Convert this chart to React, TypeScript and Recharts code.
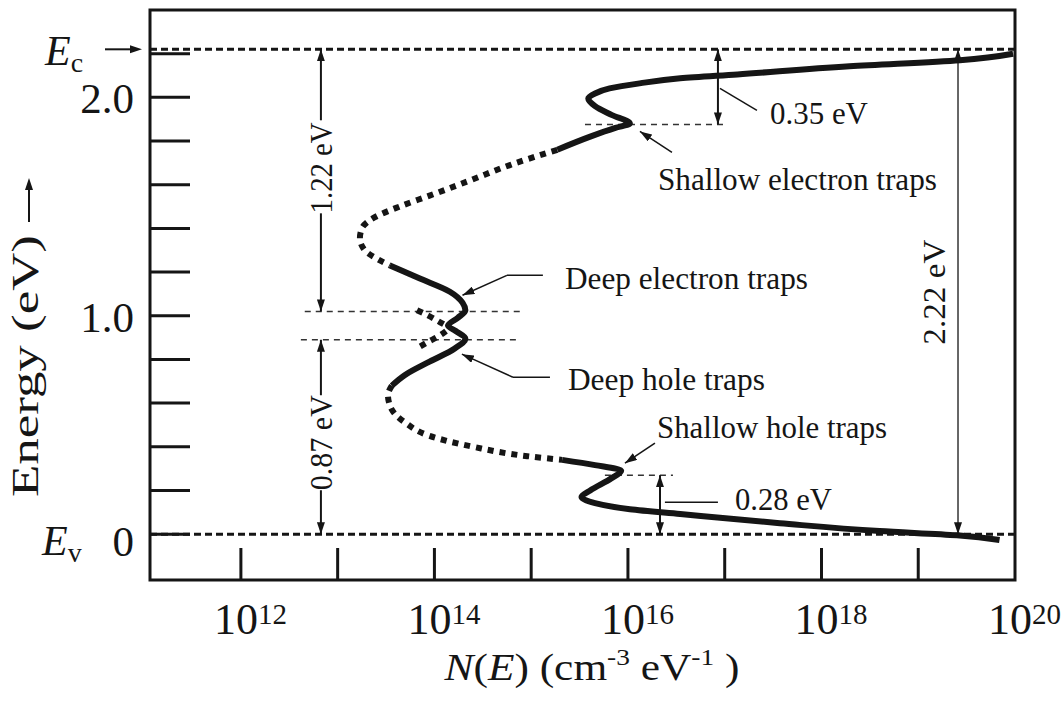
import React from 'react';
import {
    ComposedChart,
    Line,
    XAxis,
    YAxis,
    ReferenceLine,
    ReferenceArea,
    ReferenceDot,
} from 'recharts';

const INK = '#151515';
const SERIF = '"Liberation Serif", "Times New Roman", serif';

// energies (eV): band edges and the four trap levels
const EC = 2.22;
const EV = 0;
const SHALLOW_E = 1.876;
const DEEP_E = 1.02;
const DEEP_H = 0.89;
const SHALLOW_H = 0.27;

// N(E): log10 of N (cm-3 eV-1) against E (eV), top to bottom
// solid: conduction band tail + shallow electron traps
const cbTailE = [2.2, 2.17, 2.142, 2.105, 2.087, 2.064, 2.041, 2.018, 1.995, 1.96, 1.92, 1.88, 1.86, 1.82, 1.76];
const cbTailLogN = [19.98, 19.43, 18.29, 17.13, 16.54, 16.12, 15.81, 15.66, 15.59, 15.66, 15.83, 16.02, 15.87, 15.61, 15.27];
// dotted: upper part of the gap
const upperGapE = [1.76, 1.69, 1.62, 1.55, 1.5, 1.45, 1.4, 1.355, 1.3, 1.26, 1.23];
const upperGapLogN = [15.27, 14.78, 14.37, 13.95, 13.64, 13.38, 13.25, 13.23, 13.28, 13.41, 13.54];
// solid: deep electron and hole traps
const deepE = [1.23, 1.17, 1.11, 1.06, 1.025, 0.99, 0.955, 0.93, 0.895, 0.85, 0.79, 0.73, 0.68];
const deepLogN = [13.54, 13.85, 14.16, 14.29, 14.32, 14.24, 14.14, 14.22, 14.32, 14.21, 13.95, 13.7, 13.56];
// dotted: lower part of the gap
const lowerGapE = [0.68, 0.636, 0.57, 0.51, 0.45, 0.4, 0.357, 0.34];
const lowerGapLogN = [13.56, 13.52, 13.56, 13.7, 13.95, 14.4, 14.96, 15.32];
// solid: shallow hole traps + valence band tail
const vbTailE = [0.34, 0.316, 0.29, 0.256, 0.2, 0.17, 0.142, 0.114, 0.092, 0.05, 0.014, -0.005, -0.027];
const vbTailLogN = [15.32, 15.66, 15.93, 15.83, 15.61, 15.52, 15.66, 16.02, 16.54, 17.57, 18.6, 19.4, 19.84];
// dotted overlap of the two deep trap bands
const electronOverlapE = [1.025, 1.002, 0.97, 0.955];
const electronOverlapLogN = [13.82, 13.93, 14.06, 14.12];
const holeOverlapE = [0.93, 0.911, 0.879, 0.851];
const holeOverlapLogN = [14.12, 14.06, 13.93, 13.82];

const xTicks = [1e12, 1e13, 1e14, 1e15, 1e16, 1e17, 1e18, 1e19, 1e20];
const yTicks = [0, 0.2, 0.4, 0.6, 0.8, 1.0, 1.2, 1.4, 1.6, 1.8, 2.0, 2.2, EC];
const yTickLabels = ['0', '', '', '', '', '1.0', '', '', '', '', '2.0', '', ''];

const X_DOMAIN = [1.15e11, 1e20];
const Y_DOMAIN = [-0.21, 2.4];

const dex = (p: number) => 10 ** p;
const toPoints = (logN: number[], e: number[]) => logN.map((p, i) => ({ n: dex(p), e: e[i] }));

const solidParts = [toPoints(cbTailLogN, cbTailE), toPoints(deepLogN, deepE), toPoints(vbTailLogN, vbTailE)];
const dottedParts = [
    toPoints(upperGapLogN, upperGapE),
    toPoints(lowerGapLogN, lowerGapE),
    toPoints(electronOverlapLogN, electronOverlapE),
    toPoints(holeOverlapLogN, holeOverlapE),
];

// thin dashed lines marking the trap levels
const levelLines = [
    { e: SHALLOW_E, from: 15.556, to: 17.023 },
    { e: DEEP_E, from: 12.66, to: 14.884 },
    { e: DEEP_H, from: 12.62, to: 14.884 },
    { e: SHALLOW_H, from: 15.762, to: 16.465 },
];

// single arrows (tip at "to"), the 1.22 / 0.87 eV pair is split round its label
const singleArrows = [
    { logN: 12.827, from: 1.895, to: EC },
    { logN: 12.827, from: 1.469, to: DEEP_E },
    { logN: 12.827, from: 0.636, to: DEEP_H },
    { logN: 12.827, from: 0.201, to: EV },
];
const doubleArrows = [
    { logN: 16.93, from: SHALLOW_E, to: EC, w: 2 },
    { logN: 16.331, from: EV, to: SHALLOW_H, w: 2 },
    { logN: 19.411, from: EV, to: EC, w: 1.3 },
];
// leader lines: [logN, E] points, arrow head at the last one when head is set
const leaders = [
    { pts: [[16.455, 1.748], [16.124, 1.844]], head: true },
    { pts: [[15.121, 1.185], [14.749, 1.185], [14.29, 1.094]], head: true },
    { pts: [[15.194, 0.7185], [14.811, 0.7185], [14.284, 0.824]], head: true },
    { pts: [[16.279, 0.4165], [15.969, 0.325]], head: true },
    { pts: [[16.951, 2.041], [17.333, 1.94]], head: false },
    { pts: [[16.382, 0.146], [16.93, 0.146]], head: false },
];

const notes = [
    { text: 'Shallow electron traps', logN: 16.31, e: 1.574, len: 279 },
    { text: 'Deep electron traps', logN: 15.349, e: 1.121, len: 243 },
    { text: 'Deep hole traps', logN: 15.38, e: 0.659, len: 197 },
    { text: 'Shallow hole traps', logN: 16.3, e: 0.439, len: 230 },
    { text: '0.35 eV', logN: 17.468, e: 1.876, len: 98 },
    { text: '0.28 eV', logN: 17.106, e: 0.11, len: 97 },
];
const rotatedNotes = [
    { text: '1.22 eV', logN: 12.94, e: 1.677, len: 91 },
    { text: '0.87 eV', logN: 12.94, e: 0.419, len: 95 },
    { text: '2.22 eV', logN: 19.277, e: 1.108, len: 105 },
];

const XTick = ({ x, y, payload }: any) => {
    const exp = Math.round(Math.log10(payload.value));
    return (
        <g>
            {exp < 20 && <line x1={x} x2={x} y1={y} y2={y - 32} stroke={INK} strokeWidth={3} />}
            {exp % 2 === 0 && (
                <text x={x - 27} y={y + 54} fontSize={44} fontFamily={SERIF} fill={INK}>
                    10<tspan dy={-10} fontSize={29}>{exp}</tspan>
                </text>
            )}
        </g>
    );
};

const YTick = ({ x, y, payload }: any) => {
    const v = payload.value;
    if (v === EC) {
        return (
            <g>
                <line x1={x - 45} x2={x - 18} y1={y} y2={y} stroke={INK} strokeWidth={2} />
                <path d={`M${x - 8},${y} L${x - 20},${y - 4} L${x - 20},${y + 4} Z`} fill={INK} />
                <text x={x - 105} y={y + 16} fontSize={42} fontStyle="italic" fontFamily={SERIF} fill={INK}>
                    E<tspan fontSize={28} fontStyle="normal" dy={7}>c</tspan>
                </text>
            </g>
        );
    }
    const label = yTickLabels[yTicks.indexOf(v)];
    return (
        <g>
            <line x1={x} x2={x + 40} y1={y} y2={y} stroke={INK} strokeWidth={3} />
            {label && (
                <text x={x - 16} y={y + (v === 0 ? 22 : 16)} fontSize={43} textAnchor="end"
                    fontFamily={SERIF} fill={INK}>
                    {label}
                </text>
            )}
            {v === EV && (
                <text x={x - 108} y={y + 21} fontSize={42} fontStyle="italic" fontFamily={SERIF} fill={INK}>
                    E<tspan fontSize={28} fontStyle="normal" dy={7}>v</tspan>
                </text>
            )}
        </g>
    );
};

const XTitle = ({ viewBox }: any) => (
    <text
        x={viewBox.x + 442}
        y={viewBox.y + 100}
        fontSize={38}
        fontFamily={SERIF}
        textAnchor="middle"
        textLength={295}
        lengthAdjust="spacingAndGlyphs"
        fill={INK}
    >
        <tspan fontStyle="italic">N</tspan>(<tspan fontStyle="italic">E</tspan>) (cm
        <tspan fontSize={24} dy={-15}>-3</tspan>
        <tspan dy={15}> eV</tspan>
        <tspan fontSize={24} dy={-15}>-1</tspan>
        <tspan dy={15}> )</tspan>
    </text>
);

const YTitle = ({ viewBox }: any) => {
    const ax = viewBox.x + 29;
    const top = viewBox.y + 168;
    return (
        <g>
            <text
                transform={`translate(${viewBox.x + 38}, ${viewBox.y + 356}) rotate(-90)`}
                fontSize={38}
                fontFamily={SERIF}
                textAnchor="middle"
                textLength={262}
                lengthAdjust="spacingAndGlyphs"
                fill={INK}
            >
                Energy (eV)
            </text>
            <line x1={ax} x2={ax} y1={top + 44} y2={top + 10} stroke={INK} strokeWidth={2} />
            <path d={`M${ax},${top} L${ax - 4},${top + 12} L${ax + 4},${top + 12} Z`} fill={INK} />
        </g>
    );
};

const App = () => {
    return (
        <div style={{ position: 'absolute', left: 0, top: 0, background: '#fff', fontFamily: SERIF }}>
            <svg width={0} height={0} style={{ position: 'absolute' }}>
                <defs>
                    <marker id="ah" viewBox="0 0 12 8" refX="12" refY="4" markerWidth="12" markerHeight="8"
                        markerUnits="userSpaceOnUse" orient="auto-start-reverse">
                        <path d="M0,0 L12,4 L0,8 z" fill={INK} />
                    </marker>
                </defs>
            </svg>
            <ComposedChart width={1064} height={713} margin={{ top: 10, right: 49, bottom: 0, left: 0 }}>
                <XAxis
                    dataKey="n"
                    type="number"
                    scale="log"
                    domain={X_DOMAIN}
                    allowDataOverflow
                    ticks={xTicks}
                    interval={0}
                    height={133}
                    axisLine={false}
                    tickLine={false}
                    tickSize={0}
                    tickMargin={0}
                    tick={(p: any) => <XTick {...p} />}
                    label={<XTitle />}
                />
                <YAxis
                    type="number"
                    domain={Y_DOMAIN}
                    allowDataOverflow
                    ticks={yTicks}
                    interval={0}
                    width={150}
                    axisLine={false}
                    tickLine={false}
                    tickSize={0}
                    tickMargin={0}
                    tick={(p: any) => <YTick {...p} />}
                    label={<YTitle />}
                />

                {/* band edges */}
                <ReferenceLine y={EC} stroke={INK} strokeWidth={3} strokeDasharray="7 4" ifOverflow="visible" />
                <ReferenceLine y={EV} stroke={INK} strokeWidth={3} strokeDasharray="7 4" ifOverflow="visible" />

                {levelLines.map((l, i) => (
                    <ReferenceLine
                        key={`lvl-${i}`}
                        segment={[{ x: dex(l.from), y: l.e }, { x: dex(l.to), y: l.e }]}
                        stroke="#333"
                        strokeWidth={1.5}
                        strokeDasharray="6 5"
                        ifOverflow="visible"
                    />
                ))}

                {dottedParts.map((d, i) => (
                    <Line
                        key={`dot-${i}`}
                        data={d}
                        dataKey="e"
                        type="monotoneY"
                        stroke={INK}
                        strokeWidth={6}
                        strokeDasharray="6 6"
                        dot={false}
                        activeDot={false}
                        isAnimationActive={false}
                    />
                ))}
                {solidParts.map((d, i) => (
                    <Line
                        key={`sol-${i}`}
                        data={d}
                        dataKey="e"
                        type="monotoneY"
                        stroke={INK}
                        strokeWidth={6}
                        dot={false}
                        activeDot={false}
                        isAnimationActive={false}
                    />
                ))}

                {singleArrows.map((a, i) => (
                    <ReferenceLine
                        key={`sa-${i}`}
                        segment={[{ x: dex(a.logN), y: a.from }, { x: dex(a.logN), y: a.to }]}
                        stroke={INK}
                        strokeWidth={2}
                        markerEnd="url(#ah)"
                        ifOverflow="visible"
                    />
                ))}
                {doubleArrows.map((a, i) => (
                    <ReferenceLine
                        key={`da-${i}`}
                        segment={[{ x: dex(a.logN), y: a.from }, { x: dex(a.logN), y: a.to }]}
                        stroke={INK}
                        strokeWidth={a.w}
                        markerStart="url(#ah)"
                        markerEnd="url(#ah)"
                        ifOverflow="visible"
                    />
                ))}
                {leaders.flatMap((l, i) =>
                    l.pts.slice(1).map((p, j) => (
                        <ReferenceLine
                            key={`ld-${i}-${j}`}
                            segment={[{ x: dex(l.pts[j][0]), y: l.pts[j][1] }, { x: dex(p[0]), y: p[1] }]}
                            stroke={INK}
                            strokeWidth={1.5}
                            markerEnd={l.head && j === l.pts.length - 2 ? 'url(#ah)' : undefined}
                            ifOverflow="visible"
                        />
                    ))
                )}

                {notes.map((n, i) => (
                    <ReferenceDot
                        key={`note-${i}`}
                        x={dex(n.logN)}
                        y={n.e}
                        r={0}
                        ifOverflow="visible"
                        shape={(p: any) => (
                            <text x={p.cx} y={p.cy} fontSize={31} fontFamily={SERIF} textLength={n.len}
                                lengthAdjust="spacingAndGlyphs" fill={INK}>
                                {n.text}
                            </text>
                        )}
                    />
                ))}
                {rotatedNotes.map((n, i) => (
                    <ReferenceDot
                        key={`rnote-${i}`}
                        x={dex(n.logN)}
                        y={n.e}
                        r={0}
                        ifOverflow="visible"
                        shape={(p: any) => (
                            <text transform={`translate(${p.cx}, ${p.cy}) rotate(-90)`} fontSize={31}
                                fontFamily={SERIF} textAnchor="middle" textLength={n.len}
                                lengthAdjust="spacingAndGlyphs" fill={INK}>
                                {n.text}
                            </text>
                        )}
                    />
                ))}

                {/* plot frame */}
                <ReferenceArea
                    x1={X_DOMAIN[0]}
                    x2={X_DOMAIN[1]}
                    y1={Y_DOMAIN[0]}
                    y2={Y_DOMAIN[1]}
                    fill="none"
                    stroke={INK}
                    strokeWidth={3}
                    ifOverflow="visible"
                />
            </ComposedChart>
        </div>
    );
};

export default App;
